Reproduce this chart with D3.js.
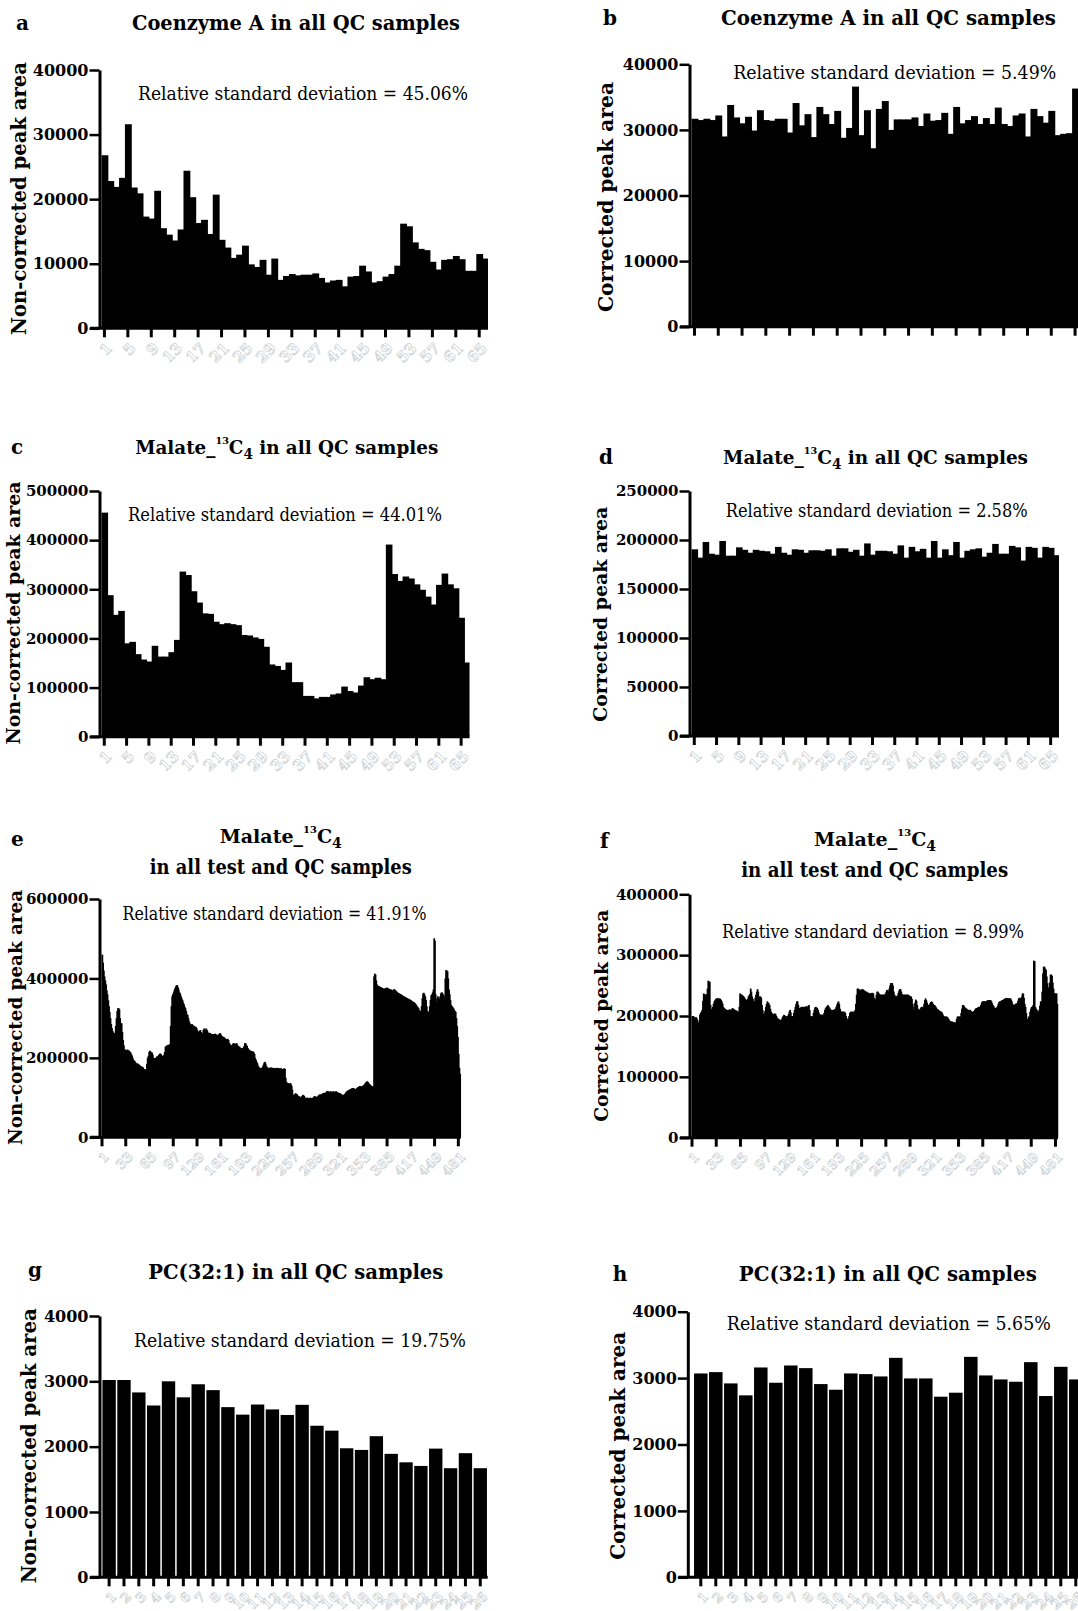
<!DOCTYPE html>
<html>
<head>
<meta charset="utf-8">
<script src="https://cdn.jsdelivr.net/npm/d3@7"></script>
<style>
  body { margin: 0; background: #fff; }
  svg { display: block; }
  text { font-family: "DejaVu Serif", serif; }
</style>
</head>
<body>
<div id="chart"></div>
<script>
// ---- data ----
const aValues = [26800,22800,21900,23300,31600,21800,20900,17300,17000,21300,15500,14500,13600,15300,24400,20300,16300,16800,14600,20700,
  13700,12500,10900,11400,12800,9900,9500,10600,8300,10800,7500,8100,8400,8200,8300,8300,8500,7800,7100,7400,
  7500,6500,8000,8100,9700,8800,7100,7300,8000,8400,9700,16200,15800,13300,12300,12100,10300,9100,10600,10700,
  11200,10700,8900,8900,11500,10800];

const bValues = [31700,31500,31700,31500,32200,29000,33800,31900,31000,32000,29900,33000,31500,31400,31700,31700,29600,34100,30700,32400,
  28900,33500,32400,30900,32900,28800,30300,36600,29200,33000,27200,33200,34400,30000,31600,31600,31600,31900,30600,32500,
  31400,31500,32600,29400,33500,31000,31500,32100,30900,31800,30900,33400,30900,30600,32200,32500,29000,33200,32100,31100,
  32900,29200,29400,29500,36300,30000];

const cValues = [456000,288000,248000,256000,190000,193000,168000,157000,153000,185000,163000,163000,172000,197000,336000,329000,296000,273000,251000,250000,
  234000,229000,231000,229000,227000,207000,206000,202000,199000,183000,147000,144000,136000,151000,111000,111000,83000,83000,78000,81000,
  81000,86000,88000,102000,93000,90000,104000,121000,117000,120000,117000,391000,331000,317000,326000,322000,310000,299000,285000,269000,
  309000,332000,310000,302000,242000,151000];

const dValues = [190500,182000,198000,186000,185000,199000,184000,184000,192500,190000,187000,190000,189000,188500,186000,193000,187000,185000,190500,190000,
  187000,189500,189500,189000,190500,184000,191500,191500,188000,190000,184000,196500,185000,189000,189000,188500,186000,194500,182000,193000,
  188500,191000,182000,199000,182000,190500,184500,198000,182000,189000,190500,191500,183000,187000,196000,186000,186000,194000,192500,179000,
  193000,192000,182000,193000,192000,184500];

// e and f: all test and QC samples, in thousands
const eValuesK = [
  460,440,420,405,395,385,370,360,345,330,315,300,285,275,268,264,262,262,280,300,
  318,325,325,322,300,287,287,265,245,232,222,220,219,220,221,219,218,216,214,210,
  206,200,195,193,191,188,186,186,185,184,182,180,179,178,177,176,172,172,170,171,
  185,200,205,215,218,216,214,213,208,200,199,198,200,203,203,205,207,210,211,209,
  206,205,204,208,215,228,230,231,232,233,232,235,280,330,355,360,365,371,376,380,
  383,383,378,372,365,362,355,350,346,340,335,329,325,318,310,308,300,292,287,285,
  283,285,282,281,280,278,278,275,270,266,266,268,270,265,258,262,270,274,273,268,
  274,270,266,262,262,263,261,260,260,260,259,260,261,259,258,258,258,259,262,262,
  258,255,253,253,252,250,248,247,247,248,245,238,234,232,232,233,236,237,236,234,
  236,237,233,230,228,228,225,224,224,224,226,230,237,237,233,230,225,222,220,218,
  218,217,216,216,214,210,200,195,190,186,180,176,175,174,174,175,178,183,188,190,
  186,180,176,175,175,174,175,176,175,174,175,174,174,173,174,175,174,174,173,174,
  173,174,172,170,172,174,172,150,140,137,136,136,135,136,135,130,120,107,105,108,
  111,110,109,106,104,103,102,101,102,104,107,106,104,100,99,99,100,99,98,99,
  100,99,98,99,100,102,104,103,101,100,103,105,107,108,108,107,109,111,112,111,
  111,113,115,117,116,114,115,116,115,113,115,116,115,114,115,116,114,113,112,111,
  111,110,108,107,106,107,108,110,113,115,116,118,119,120,121,122,123,124,124,123,
  122,121,122,124,126,127,128,129,128,128,129,130,131,133,136,138,140,141,139,136,
  134,132,130,129,128,128,405,412,410,395,385,382,381,380,379,378,377,376,375,374,
  374,375,376,377,376,375,374,373,372,372,371,370,371,373,372,370,368,366,364,363,
  362,361,360,359,358,356,355,354,353,352,351,350,349,348,347,346,345,343,342,340,
  340,338,336,333,330,328,325,320,318,316,330,350,362,364,360,355,346,330,318,316,
  316,330,346,358,360,365,372,501,495,360,340,350,355,350,348,355,362,365,364,360,
  358,352,400,421,420,418,400,372,360,345,333,330,328,325,322,318,316,300,280,253,
  210,175,160,153];

const fValuesK = [
  200,200,199,198,197,198,196,193,189,190,202,205,207,210,225,237,236,235,234,236,
  245,258,257,256,218,212,210,215,220,224,226,228,229,229,229,228,229,228,226,224,
  220,215,213,212,211,210,210,209,210,211,210,210,211,213,212,211,210,210,209,208,
  207,207,215,237,236,235,234,233,232,230,228,226,226,228,232,234,236,245,240,232,
  228,224,224,230,235,240,244,240,232,232,232,230,218,210,204,202,208,215,220,224,
  222,221,218,212,207,205,203,202,204,204,203,200,197,196,195,194,193,193,195,198,
  200,202,201,200,199,199,200,203,207,210,206,200,199,200,205,210,215,220,224,224,
  218,213,213,214,215,215,215,214,215,215,216,215,215,217,218,210,200,199,199,200,
  205,210,214,215,214,213,210,206,203,202,202,202,202,202,205,210,213,215,216,218,
  216,214,212,210,210,210,210,210,211,212,215,219,222,224,220,212,208,207,207,207,
  207,207,205,200,196,193,196,200,205,207,207,207,207,207,207,210,220,235,245,245,
  244,243,243,243,244,244,243,242,241,240,240,239,238,238,237,237,237,238,238,237,
  230,224,228,235,240,240,238,236,235,235,235,235,235,235,235,237,240,243,242,240,
  245,250,254,254,254,250,240,235,233,232,232,234,238,242,244,244,240,236,235,235,
  235,235,235,235,235,235,234,233,232,232,228,220,210,215,222,227,225,218,212,209,
  210,212,214,215,215,213,220,226,229,226,222,218,218,219,221,223,224,222,220,218,
  218,216,214,212,211,210,209,208,207,207,205,202,200,199,199,199,199,198,196,194,
  192,191,191,191,190,190,190,189,189,195,199,199,199,199,199,205,212,218,218,216,
  214,213,212,211,210,210,210,210,208,207,207,207,208,210,212,213,213,214,215,215,
  215,218,222,224,224,224,224,224,224,225,226,226,226,226,226,224,221,218,216,214,
  213,213,214,216,220,223,224,224,225,226,226,227,228,229,229,229,229,229,229,229,
  229,227,224,220,218,218,219,220,221,220,225,229,230,229,229,232,237,237,230,220,
  215,205,193,195,199,199,207,212,215,215,218,291,290,215,212,210,207,207,210,217,
  224,224,240,270,281,281,278,276,265,254,247,240,255,268,268,266,255,245,237,237,
  237,237,220,185];

const gValues = [3020,3020,2830,2630,3000,2755,2955,2865,2605,2490,2645,2570,2485,2640,2320,2245,1975,1950,2160,1890,1760,1705,1970,1670,1900,1670];
const hValues = [3070,3090,2920,2740,3160,2930,3190,3150,2910,2825,3070,3060,3025,3305,2995,2995,2720,2780,3320,3040,2980,2945,3240,2730,3170,2980];

// tick labels
const qcTicks = [1,5,9,13,17,21,25,29,33,37,41,45,49,53,57,61,65];
const allTicks = [1,33,65,97,129,161,193,225,257,289,321,353,385,417,449,481];
const pcTicks = d3.range(1, 27);

const ticksA = [0,10000,20000,30000,40000];
const ticksC = [0,100000,200000,300000,400000,500000];
const ticksD = [0,50000,100000,150000,200000,250000];
const ticksE = [0,200000,400000,600000];
const ticksF = [0,100000,200000,300000,400000];
const ticksG = [0,1000,2000,3000,4000];

const rsd = ["45.06%","5.49%","44.01%","2.58%","41.91%","8.99%","19.75%","5.65%"];

const svg = d3.select("#chart").append("svg")
  .attr("width", 1078).attr("height", 1611);
svg.append("rect").attr("width", 1078).attr("height", 1611).attr("fill", "#fff");

const NC = "Non-corrected peak area", CO = "Corrected peak area";

const panels = [
  {letter:"a", lx:16, ly:30, values:aValues, yMax:40000, yTicks:ticksA, yFont:16, xTicks:qcTicks, labels:true, lFont:15,
   ax:100, top:70, bottom:328.3, x0:101.5, x1:488,
   title:{text:"Coenzyme A in all QC samples", cx:296, y:30, len:328},
   ann:{cx:303, y:100, len:330, i:0}, ylab:{text:NC, bx:26, cy:198.5, len:273, size:20}},
  {letter:"b", lx:603, ly:25, values:bValues, yMax:40000, yTicks:ticksA, yFont:16, xTicks:qcTicks, labels:false,
   ax:690, top:64.3, bottom:326.7, x0:691.5, x1:1084,
   title:{text:"Coenzyme A in all QC samples", cx:888.5, y:25, len:335},
   ann:{cx:894.7, y:79.3, len:323, i:1}, ylab:{text:CO, bx:613, cy:197, len:230, size:21}},
  {letter:"c", lx:11, ly:454, values:cValues, yMax:500000, yTicks:ticksC, yFont:15, xTicks:qcTicks, labels:true, lFont:15,
   ax:100, top:491, bottom:736.7, x0:101.5, x1:469.5,
   malate:{cx:286.7, y:454, rest:" in all QC samples", len:303},
   ann:{cx:285, y:521, len:314, i:2}, ylab:{text:NC, bx:20, cy:613, len:263, size:19}},
  {letter:"d", lx:599, ly:464.3, values:dValues, yMax:250000, yTicks:ticksD, yFont:15, xTicks:qcTicks, labels:true, lFont:15,
   ax:690, top:491, bottom:736, x0:691.5, x1:1059,
   malate:{cx:875.5, y:464.3, rest:" in all QC samples", len:305},
   ann:{cx:876.7, y:516.7, len:302, i:3}, ylab:{text:CO, bx:607, cy:614.3, len:215, size:19}},
  {letter:"e", lx:11, ly:845.7, values:eValuesK.map(v => v * 1000), yMax:600000, yTicks:ticksE, yFont:15, xTicks:allTicks, labels:true, lFont:13,
   ax:100, top:899, bottom:1137.3, x0:101.5, x1:460.8,
   malate:{cx:280.8, y:843.3, rest:null}, line2:{cx:280.8, y:874, len:262},
   ann:{cx:274.5, y:920, len:304, i:4}, ylab:{text:NC, bx:21.7, cy:1017.5, len:255, size:19}},
  {letter:"f", lx:600, ly:848.3, values:fValuesK.map(v => v * 1000), yMax:400000, yTicks:ticksF, yFont:15, xTicks:allTicks, labels:true, lFont:13,
   ax:690, top:894.3, bottom:1137.7, x0:691.5, x1:1058,
   malate:{cx:875, y:845.7, rest:null}, line2:{cx:874.7, y:877.3, len:267},
   ann:{cx:873, y:938.3, len:302, i:5}, ylab:{text:CO, bx:608, cy:1015.8, len:212, size:19}},
  {letter:"g", lx:28, ly:1277.3, values:gValues, yMax:4000, yTicks:ticksG, yFont:16, xTicks:pcTicks, labels:true, lFont:13, gap:0.1,
   ax:100, top:1316, bottom:1577.3, x0:101.7, x1:487.7,
   title:{text:"PC(32:1) in all QC samples", cx:295.8, y:1279.3, len:295},
   ann:{cx:300, y:1346.7, len:332, i:6}, ylab:{text:NC, bx:36, cy:1445.7, len:275, size:20}},
  {letter:"h", lx:612.7, ly:1280.7, values:hValues, yMax:4000, yTicks:ticksG, yFont:16, xTicks:pcTicks, labels:true, lFont:13, gap:0.1,
   ax:688.3, top:1311.7, bottom:1577.3, x0:693.3, x1:1083.3,
   title:{text:"PC(32:1) in all QC samples", cx:887.8, y:1281, len:298},
   ann:{cx:888.8, y:1330, len:324, i:7}, ylab:{text:CO, bx:625, cy:1445.8, len:228, size:21}}
];

function drawPanel(p) {
  const g = svg.append("g");
  const n = p.values.length;
  const x = d3.scaleBand().domain(d3.range(1, n + 1)).range([p.x0, p.x1])
    .paddingInner(p.gap || 0).paddingOuter(p.gap ? 0.05 : 0);
  const y = d3.scaleLinear().domain([0, p.yMax]).range([p.bottom, p.top]);

  // bars (contiguous ones overlap by 1px so no seams show)
  g.append("g").selectAll("rect")
    .data(p.values)
    .join("rect")
    .attr("x", (d, i) => x(i + 1))
    .attr("y", d => y(d))
    .attr("width", (d, i) => p.gap || i === n - 1 ? x.bandwidth() : x.bandwidth() + 1)
    .attr("height", d => y(0) - y(d))
    .attr("fill", "#000");

  // x axis
  g.append("line")
    .attr("x1", p.ax - 10).attr("x2", p.x1)
    .attr("y1", p.bottom).attr("y2", p.bottom)
    .attr("stroke", "#000").attr("stroke-width", 3);
  const xa = g.append("g").attr("transform", `translate(0,${p.bottom})`)
    .call(d3.axisBottom(x).tickValues(p.xTicks).tickSize(9).tickSizeOuter(0));
  xa.select(".domain").remove();
  xa.selectAll(".tick line").attr("stroke", "#000").attr("stroke-width", 3);
  if (p.labels) {
    xa.selectAll(".tick text")
      .attr("x", 0).attr("y", 0).attr("dy", "0.35em")
      .attr("text-anchor", "end")
      .attr("transform", "translate(5,17) rotate(-45)")
      .attr("font-family", "DejaVu Serif").attr("font-weight", "bold")
      .attr("font-size", p.lFont)
      .attr("fill", "#fff").attr("stroke", "#cfd5d8").attr("stroke-width", 0.8);
  } else {
    xa.selectAll(".tick text").remove();
  }

  // y axis
  const ya = g.append("g").attr("transform", `translate(${p.ax - 0.5},0)`)
    .call(d3.axisLeft(y).tickValues(p.yTicks).tickSize(10).tickSizeOuter(0).tickPadding(1).tickFormat(d3.format("d")));
  ya.select(".domain").attr("stroke", "#000").attr("stroke-width", 3);
  ya.selectAll(".tick line").attr("stroke", "#000").attr("stroke-width", 2.5);
  ya.selectAll(".tick text")
    .attr("font-family", "DejaVu Serif").attr("font-weight", "bold")
    .attr("font-size", p.yFont).attr("fill", "#000");

  // panel letter
  g.append("text").attr("x", p.lx).attr("y", p.ly)
    .attr("font-weight", "bold").attr("font-size", 20).text(p.letter);

  // title
  if (p.title) {
    g.append("text").attr("x", p.title.cx).attr("y", p.title.y)
      .attr("text-anchor", "middle").attr("font-weight", "bold").attr("font-size", 20)
      .attr("textLength", p.title.len).attr("lengthAdjust", "spacingAndGlyphs")
      .text(p.title.text);
  }
  if (p.malate) {
    const t = g.append("text").attr("x", p.malate.cx).attr("y", p.malate.y)
      .attr("text-anchor", "middle").attr("font-weight", "bold").attr("font-size", 19);
    if (p.malate.len) t.attr("textLength", p.malate.len).attr("lengthAdjust", "spacingAndGlyphs");
    t.append("tspan").text("Malate_");
    t.append("tspan").attr("font-size", 10).attr("dy", -10).text("13");
    t.append("tspan").attr("dy", 10).text("C");
    t.append("tspan").attr("font-size", 14).attr("dy", 5).text("4");
    if (p.malate.rest) t.append("tspan").attr("dy", -5).text(p.malate.rest);
  }
  if (p.line2) {
    g.append("text").attr("x", p.line2.cx).attr("y", p.line2.y)
      .attr("text-anchor", "middle").attr("font-weight", "bold").attr("font-size", 20)
      .attr("textLength", p.line2.len).attr("lengthAdjust", "spacingAndGlyphs")
      .text("in all test and QC samples");
  }

  // RSD annotation
  g.append("text").attr("x", p.ann.cx).attr("y", p.ann.y)
    .attr("text-anchor", "middle").attr("font-size", 18)
    .attr("textLength", p.ann.len).attr("lengthAdjust", "spacingAndGlyphs")
    .text("Relative standard deviation = " + rsd[p.ann.i]);

  // y label
  g.append("text")
    .attr("transform", `translate(${p.ylab.bx},${p.ylab.cy}) rotate(-90)`)
    .attr("text-anchor", "middle").attr("font-weight", "bold").attr("font-size", p.ylab.size)
    .attr("textLength", p.ylab.len).attr("lengthAdjust", "spacingAndGlyphs")
    .text(p.ylab.text);
}

panels.forEach(drawPanel);
</script>
</body>
</html>
